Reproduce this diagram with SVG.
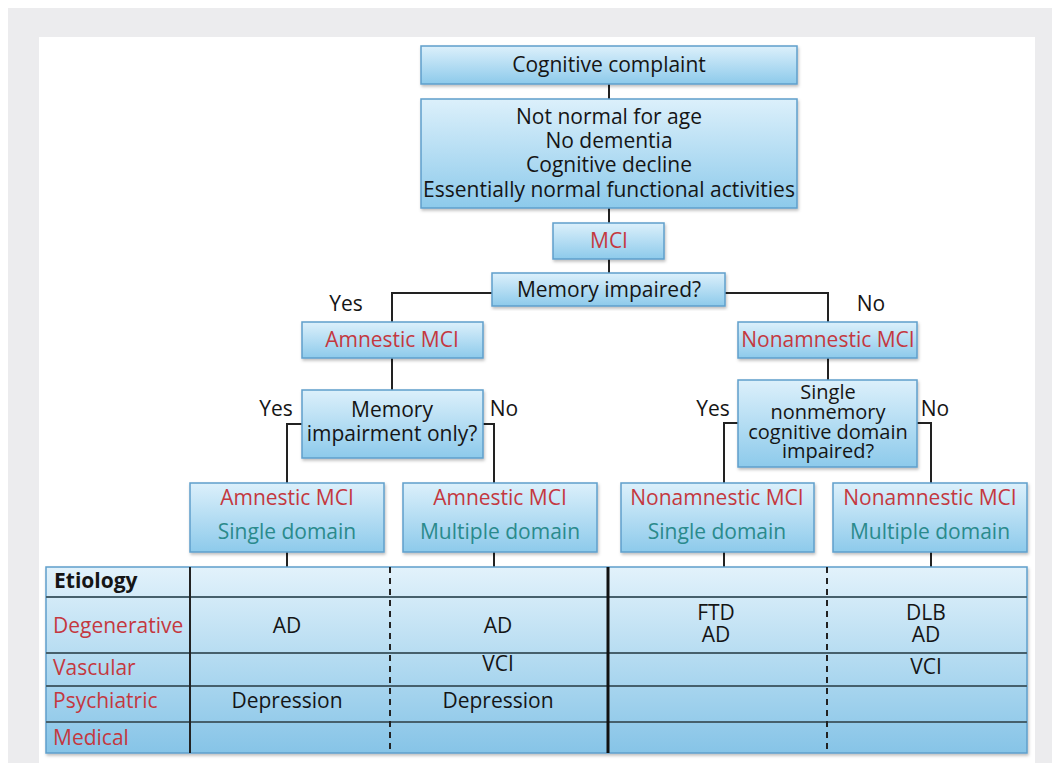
<svg xmlns="http://www.w3.org/2000/svg" width="1052" height="763" viewBox="0 0 1052 763">
<defs>
<linearGradient id="boxg" x1="0" y1="0" x2="0" y2="1">
<stop offset="0" stop-color="#dcf0fb"/>
<stop offset="1" stop-color="#8dcaeb"/>
</linearGradient>
<linearGradient id="tabg" x1="0" y1="0" x2="0" y2="1">
<stop offset="0" stop-color="#e2f2fb"/>
<stop offset="1" stop-color="#86c4e7"/>
</linearGradient>
<filter id="sh" x="-5%" y="-5%" width="110%" height="120%">
<feDropShadow dx="1" dy="2" stdDeviation="1.5" flood-color="#000" flood-opacity="0.25"/>
</filter>
</defs>
<style>
.box{fill:url(#boxg);stroke:#5f9fcb;stroke-width:1.5;filter:url(#sh)}
text{font-family:"Open Sans","Liberation Sans",sans-serif;font-size:21px;fill:#151515;text-anchor:middle}
.r{fill:#c4383f}
.t{fill:#2a8a8c}
.lbl{text-anchor:start}
.sm{font-size:20px}
.c{fill:none;stroke:#222;stroke-width:2}
.row{stroke:#46606c;stroke-width:2}
.dash{stroke:#222;stroke-width:2;stroke-dasharray:6 5}
</style>
<rect x="0" y="0" width="1052" height="763" fill="#ffffff"/>
<rect x="8" y="8" width="1044" height="755" fill="#ececee"/>
<rect x="39" y="37" width="996" height="726" fill="#ffffff"/>
<g id="connectors">
<path class="c" d="M609 84V99M609 208V223M609 259V273"/>
<path class="c" d="M492 293H392V322M725 293H828V322"/>
<path class="c" d="M392 358V390M828 358V380"/>
<path class="c" d="M302 424H287V483M483 424H494V483"/>
<path class="c" d="M738 423H724V483M917 423H931V483"/>
<path class="c" d="M287 552V567M494 552V567M724 552V567M931 552V567"/>
</g>
<g id="n-complaint">
<rect class="box" x="421" y="46" width="376" height="38"/>
<text x="609" y="72">Cognitive complaint</text>
</g>
<g id="n-criteria">
<rect class="box" x="421" y="99" width="376" height="109"/>
<text x="609" y="124">Not normal for age</text>
<text x="609" y="148">No dementia</text>
<text x="609" y="172">Cognitive decline</text>
<text x="609" y="197">Essentially normal functional activities</text>
</g>
<g id="n-mci">
<rect class="box" x="553" y="223" width="111" height="36"/>
<text class="r" x="609" y="248">MCI</text>
</g>
<g id="n-memory">
<rect class="box" x="492" y="273" width="233" height="33"/>
<text x="609" y="297">Memory impaired?</text>
</g>
<text x="346" y="311">Yes</text>
<text x="871" y="311">No</text>
<g id="n-amnestic">
<rect class="box" x="302" y="322" width="181" height="36"/>
<text class="r" x="392" y="347">Amnestic MCI</text>
</g>
<g id="n-nonamnestic">
<rect class="box" x="738" y="322" width="179" height="36"/>
<text class="r" x="828" y="347">Nonamnestic MCI</text>
</g>
<g id="n-memonly">
<rect class="box" x="302" y="390" width="181" height="68"/>
<text x="392" y="417">Memory</text>
<text x="392" y="441">impairment only?</text>
</g>
<text x="276" y="416">Yes</text>
<text x="504" y="416">No</text>
<g id="n-single">
<rect class="box" x="738" y="380" width="179" height="87"/>
<text class="sm" x="828" y="399">Single</text>
<text class="sm" x="828" y="419">nonmemory</text>
<text class="sm" x="828" y="439">cognitive domain</text>
<text class="sm" x="828" y="458">impaired?</text>
</g>
<text x="713" y="416">Yes</text>
<text x="935" y="416">No</text>
<g id="n-a-single">
<rect class="box" x="190" y="483" width="194" height="69"/>
<text class="r" x="287" y="505">Amnestic MCI</text>
<text class="t" x="287" y="539">Single domain</text>
</g>
<g id="n-a-multi">
<rect class="box" x="403" y="483" width="194" height="69"/>
<text class="r" x="500" y="505">Amnestic MCI</text>
<text class="t" x="500" y="539">Multiple domain</text>
</g>
<g id="n-n-single">
<rect class="box" x="621" y="483" width="193" height="69"/>
<text class="r" x="717" y="505">Nonamnestic MCI</text>
<text class="t" x="717" y="539">Single domain</text>
</g>
<g id="n-n-multi">
<rect class="box" x="833" y="483" width="194" height="69"/>
<text class="r" x="930" y="505">Nonamnestic MCI</text>
<text class="t" x="930" y="539">Multiple domain</text>
</g>
<g id="table">
<rect x="46" y="567" width="981" height="186" fill="url(#tabg)" stroke="#5f9fcb" stroke-width="1.5" filter="url(#sh)"/>
<path class="row" d="M46 597H1027M46 653H1027M46 686H1027M46 722H1027"/>
<path d="M190 567V753" stroke="#222" stroke-width="2"/>
<path d="M608 567V753" stroke="#111" stroke-width="3"/>
<path class="dash" d="M390 567V753M827 567V753"/>
<text class="lbl" x="54" y="588" style="font-weight:bold">Etiology</text>
<text class="lbl r" x="53" y="633">Degenerative</text>
<text class="lbl r" x="53" y="675">Vascular</text>
<text class="lbl r" x="53" y="708">Psychiatric</text>
<text class="lbl r" x="53" y="745">Medical</text>
<text x="287" y="633">AD</text>
<text x="287" y="708">Depression</text>
<text x="498" y="633">AD</text>
<text x="498" y="671">VCI</text>
<text x="498" y="708">Depression</text>
<text x="716" y="620">FTD</text>
<text x="716" y="642">AD</text>
<text x="926" y="620">DLB</text>
<text x="926" y="642">AD</text>
<text x="926" y="674">VCI</text>
</g>
</svg>
